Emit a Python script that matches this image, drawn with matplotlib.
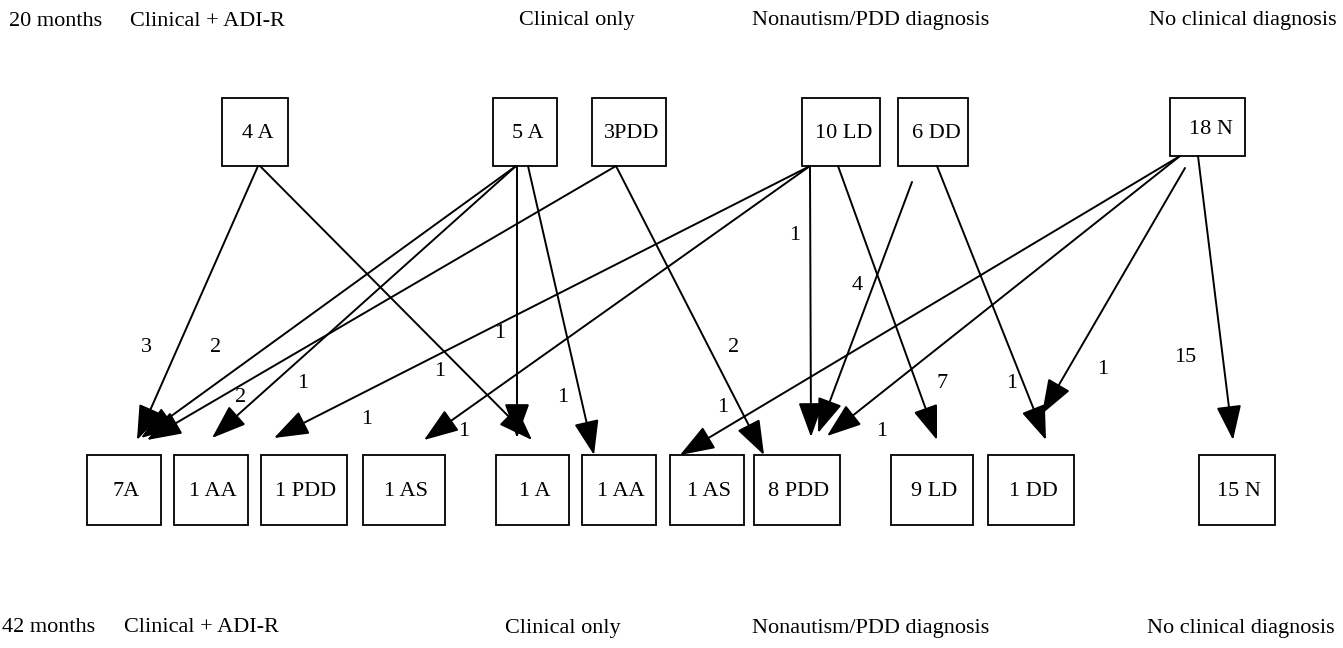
import matplotlib.pyplot as plt
from matplotlib.patches import Rectangle

plt.rcParams['font.family'] = ['Liberation Serif', 'DejaVu Serif']

# --- data -------------------------------------------------------------------
group_titles = ["Clinical + ADI-R", "Clinical only", "Nonautism/PDD diagnosis",
                "No clinical diagnosis"]
time_labels = ["20 months", "42 months"]

top_labels = ["4 A", "5 A", "3PDD", "10 LD", "6 DD", "18 N"]
bottom_labels = ["7A", "1 AA", "1 PDD", "1 AS", "1 A", "1 AA", "1 AS", "8 PDD",
                 "9 LD", "1 DD", "15 N"]

# (source box index, target box index, number of children)
edge_src = [0, 0, 1, 1, 1, 1, 2, 2, 3, 3, 3, 3, 4, 4, 5, 5, 5, 5]
edge_dst = [0, 4, 0, 1, 4, 5, 0, 7, 2, 3, 7, 8, 7, 9, 6, 7, 9, 10]
edge_n = [3, 1, 2, 1, 1, 1, 2, 2, 1, 1, 1, 7, 4, 1, 1, 1, 1, 15]

# --- layout (pixel coordinates of the 1343 x 648 canvas) ----------------------
top_x = [(222, 288), (493, 557), (592, 666), (802, 880), (898, 968), (1170, 1245)]
top_y = [(98, 166)] * 5 + [(98, 156)]
bot_x = [(87, 161), (174, 248), (261, 347), (363, 445), (496, 569), (582, 656),
         (670, 744), (754, 840), (891, 973), (988, 1074), (1199, 1275)]
bot_y = (455, 525)

edge_start = [(258, 166), (260, 166), (516, 166), (516, 166), (517, 166),
              (528, 166), (616, 166), (616, 166), (810, 166), (810, 166),
              (810, 166), (838, 166), (912, 182), (937, 166), (1180, 156),
              (1180, 156), (1185, 168), (1198, 156)]
edge_end = [(137, 440), (532, 440), (141, 438), (212, 438), (517, 438),
            (594, 455), (147, 440), (764, 455), (274, 438), (424, 440),
            (811, 437), (937, 440), (818, 433), (1046, 440), (680, 455),
            (827, 436), (1042, 414), (1233, 440)]
label_xy = [(146, 348), (464, 432), (216, 348), (303, 383), (440, 372),
            (563, 397), (241, 397), (734, 347), (500, 333), (367, 420),
            (795, 235), (942, 383), (857, 285), (1012, 383), (723, 408),
            (882, 432), (1103, 370), (1185, 358)]

fig = plt.figure(figsize=(13.43, 6.48), dpi=100)
ax = fig.add_axes([0, 0, 1, 1])
ax.set_xlim(0, 1343)
ax.set_ylim(648, 0)
ax.axis("off")

fs_head = 16
fs = 16

# headers (top and bottom)
ax.text(9, 21, time_labels[0], fontsize=fs_head, va="center")
ax.text(130, 21, group_titles[0], fontsize=fs_head, va="center")
ax.text(577, 21, group_titles[1], fontsize=fs_head, va="center", ha="center")
ax.text(871, 21, group_titles[2], fontsize=fs_head, va="center", ha="center")
ax.text(1337, 21, group_titles[3], fontsize=fs_head, va="center", ha="right")

ax.text(2, 628, time_labels[1], fontsize=fs_head, va="center")
ax.text(124, 628, group_titles[0], fontsize=fs_head, va="center")
ax.text(563, 628, group_titles[1], fontsize=fs_head, va="center", ha="center")
ax.text(871, 628, group_titles[2], fontsize=fs_head, va="center", ha="center")
ax.text(1335, 628, group_titles[3], fontsize=fs_head, va="center", ha="right")

# boxes
for lab, (x0, x1), (y0, y1) in zip(top_labels, top_x, top_y):
    ax.add_patch(Rectangle((x0, y0), x1 - x0, y1 - y0, fill=False, lw=1.3,
                           ec="black"))
    ax.text((x0 + x1) / 2 + 3, (y0 + y1) / 2 + 2, lab, fontsize=fs, ha="center",
            va="center")
for lab, (x0, x1) in zip(bottom_labels, bot_x):
    ax.add_patch(Rectangle((x0, bot_y[0]), x1 - x0, bot_y[1] - bot_y[0],
                           fill=False, lw=1.3, ec="black"))
    ax.text((x0 + x1) / 2 + 2, (bot_y[0] + bot_y[1]) / 2 + 2, lab, fontsize=fs,
            ha="center", va="center")

# transitions
for s, e, n, lxy in zip(edge_start, edge_end, edge_n, label_xy):
    ax.annotate("", xy=e, xytext=s,
                arrowprops=dict(arrowstyle="-|>,head_length=1.8,head_width=0.65",
                                mutation_scale=12, lw=1.4, color="black",
                                shrinkA=0, shrinkB=0))
    ax.text(lxy[0], lxy[1], str(n), fontsize=fs, ha="center", va="center")

fig.savefig("out.png", dpi=100)
